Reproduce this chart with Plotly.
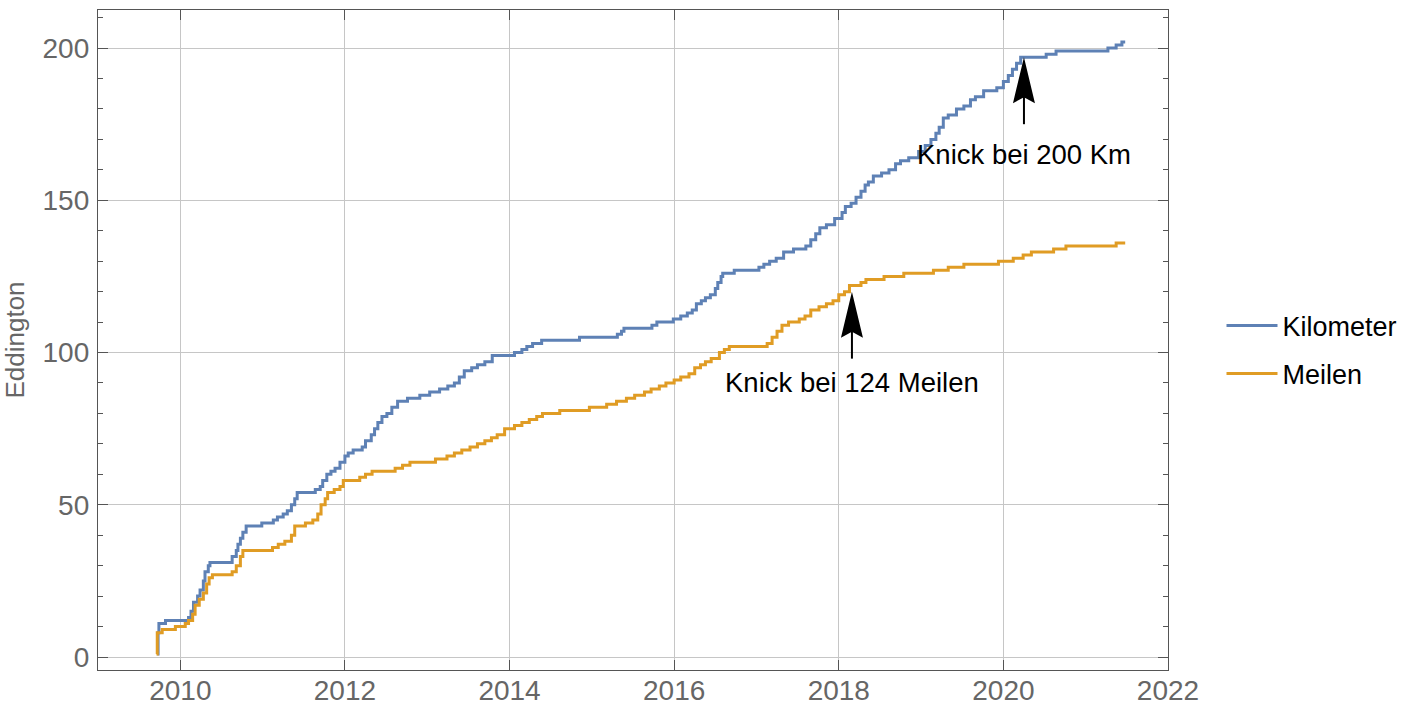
import plotly.graph_objects as go

# ---------------- data ----------------
km_years = [2009.72, 2009.73, 2009.74, 2009.82, 2010.10, 2010.13, 2010.16, 2010.21, 2010.24, 2010.28,
            2010.30, 2010.34, 2010.36, 2010.63, 2010.68, 2010.70, 2010.73, 2010.76, 2010.80, 2010.99,
            2011.13, 2011.18, 2011.25, 2011.30, 2011.35, 2011.39, 2011.42, 2011.64, 2011.70, 2011.73,
            2011.78, 2011.83, 2011.88, 2011.94, 2012.00, 2012.04, 2012.10, 2012.21, 2012.25, 2012.32,
            2012.36, 2012.40, 2012.45, 2012.51, 2012.57, 2012.64, 2012.76, 2012.91, 2013.03, 2013.15,
            2013.25, 2013.33, 2013.39, 2013.45, 2013.54, 2013.61, 2013.70, 2013.79, 2014.06, 2014.15,
            2014.21, 2014.28, 2014.39, 2014.85, 2015.31, 2015.36, 2015.39, 2015.73, 2015.79, 2015.99,
            2016.08, 2016.16, 2016.22, 2016.27, 2016.33, 2016.38, 2016.44, 2016.50, 2016.53, 2016.57,
            2016.59, 2016.73, 2017.03, 2017.09, 2017.16, 2017.24, 2017.33, 2017.45, 2017.60, 2017.66,
            2017.72, 2017.77, 2017.85, 2017.95, 2018.04, 2018.08, 2018.15, 2018.21, 2018.27, 2018.32,
            2018.36, 2018.42, 2018.52, 2018.61, 2018.69, 2018.75, 2018.85, 2018.97, 2019.05, 2019.12,
            2019.18, 2019.22, 2019.27, 2019.33, 2019.43, 2019.52, 2019.60, 2019.66, 2019.76, 2019.92,
            2020.00, 2020.06, 2020.11, 2020.16, 2020.21, 2020.52, 2020.64, 2021.27, 2021.37, 2021.44,
            2021.48]
km_values = [1, 8, 11, 12, 13, 15, 18, 20, 22, 25,
             28, 30, 31, 33, 35, 37, 39, 41, 43, 44,
             45, 46, 47, 48, 50, 52, 54, 55, 56, 58,
             60, 61, 62, 64, 66, 67, 68, 69, 71, 73,
             75, 77, 79, 80, 82, 84, 85, 86, 87, 88,
             89, 90, 92, 94, 95, 96, 97, 99, 100, 101,
             102, 103, 104, 105, 106, 107, 108, 109, 110, 111,
             112, 113, 114, 116, 117, 118, 119, 121, 123, 125,
             126, 127, 128, 129, 130, 131, 133, 134, 135, 137,
             139, 141, 142, 144, 146, 148, 149, 151, 153, 155,
             156, 158, 159, 160, 162, 163, 164, 166, 168, 170,
             172, 174, 177, 178, 180, 181, 183, 184, 186, 187,
             189, 191, 193, 195, 197, 198, 199, 200, 201, 202,
             202]

mi_years = [2009.71, 2009.72, 2009.78, 2009.94, 2010.06, 2010.10, 2010.15, 2010.18, 2010.23, 2010.28,
            2010.32, 2010.35, 2010.39, 2010.63, 2010.68, 2010.73, 2010.76, 2011.12, 2011.19, 2011.27,
            2011.35, 2011.39, 2011.52, 2011.61, 2011.67, 2011.71, 2011.76, 2011.79, 2011.87, 2011.94,
            2011.98, 2012.18, 2012.25, 2012.33, 2012.61, 2012.70, 2012.79, 2013.10, 2013.24, 2013.33,
            2013.42, 2013.52, 2013.61, 2013.70, 2013.78, 2013.85, 2013.94, 2014.06, 2014.15, 2014.24,
            2014.33, 2014.40, 2014.61, 2014.97, 2015.18, 2015.30, 2015.42, 2015.52, 2015.64, 2015.72,
            2015.82, 2015.90, 2016.00, 2016.08, 2016.18, 2016.25, 2016.32, 2016.38, 2016.45, 2016.55,
            2016.61, 2016.67, 2017.13, 2017.19, 2017.25, 2017.31, 2017.39, 2017.52, 2017.59, 2017.66,
            2017.76, 2017.85, 2017.93, 2018.00, 2018.07, 2018.13, 2018.27, 2018.33, 2018.55, 2018.79,
            2019.15, 2019.33, 2019.52, 2019.94, 2020.12, 2020.24, 2020.34, 2020.61, 2020.76, 2021.37,
            2021.48]
mi_values = [1, 8, 9, 10, 11, 12, 14, 17, 19, 21,
             24, 26, 27, 28, 30, 33, 35, 36, 37, 38,
             40, 43, 44, 45, 47, 50, 52, 54, 55, 56,
             58, 59, 60, 61, 62, 63, 64, 65, 66, 67,
             68, 69, 70, 71, 72, 73, 75, 76, 77, 78,
             79, 80, 81, 82, 83, 84, 85, 86, 87, 88,
             89, 90, 91, 92, 93, 95, 96, 97, 98, 100,
             101, 102, 103, 105, 107, 109, 110, 111, 112, 114,
             115, 116, 117, 119, 120, 122, 123, 124, 125, 126,
             127, 128, 129, 130, 131, 132, 133, 134, 135, 136,
             136]

series_names = ["Kilometer", "Meilen"]
series_colors = ["rgb(94,129,181)", "rgb(224,156,36)"]

x_ticks = [2010, 2012, 2014, 2016, 2018, 2020, 2022]
y_ticks = [0, 50, 100, 150, 200]

note_texts = ["Knick bei 200 Km", "Knick bei 124 Meilen"]
note_x = [2020.25, 2018.16]
note_tip_y = [197, 120]
note_text_y = [165, 90]

# ---------------- figure ----------------
fig = go.Figure()
for name, xs, ys, col in zip(series_names, [km_years, mi_years], [km_values, mi_values], series_colors):
    fig.add_trace(go.Scatter(x=xs, y=ys, mode="lines", name=name, legendgroup=name,
                             line=dict(color=col, width=3, shape="hv")))

FONT = "Liberation Sans, Arial, sans-serif"
axis_common = dict(showline=True, linecolor="#555555", linewidth=1.3, mirror="ticks",
                   ticks="inside", tickcolor="#555555", tickwidth=1.3, automargin=False,
                   showgrid=True, gridcolor="#c6c6c6", gridwidth=1.4, zeroline=False,
                   tickfont=dict(family=FONT, size=28, color="#666666"))

fig.update_xaxes(range=[2009.0, 2022.0], tickvals=x_ticks, ticklen=10,
                 ticklabelstandoff=-5, **axis_common)
fig.update_yaxes(range=[-4.27, 212.5], tickvals=y_ticks, ticklen=10,
                 minor=dict(tickvals=[v for v in range(0, 211, 10) if v % 50], ticks="inside",
                            ticklen=5, tickcolor="#555555", tickwidth=1.3, showgrid=False),
                 title=dict(text="Eddington", font=dict(family=FONT, size=26, color="#666666"),
                            standoff=14),
                 ticklabelstandoff=2, **axis_common)

shapes = []
annotations = []
for txt, ax, ty, tx in zip(note_texts, note_x, note_tip_y, note_text_y):
    shapes.append(dict(type="path", xref="x", yref="y", xsizemode="pixel", ysizemode="pixel",
                       xanchor=ax, yanchor=ty, path="M0,0 L-11,-46 L0,-40 L11,-46 Z",
                       fillcolor="black", line=dict(width=0)))
    shapes.append(dict(type="line", xref="x", yref="y", xsizemode="pixel", ysizemode="pixel",
                       xanchor=ax, yanchor=ty, x0=0, x1=0, y0=-38, y1=-67,
                       line=dict(color="black", width=2)))
    annotations.append(dict(x=ax, y=tx, xref="x", yref="y", text=txt, showarrow=False,
                            font=dict(family=FONT, size=27.5, color="black"),
                            xanchor="center", yanchor="middle"))

fig.update_layout(
    width=1412, height=710,
    margin=dict(l=98, r=244, t=10, b=40, autoexpand=False),
    plot_bgcolor="white", paper_bgcolor="white",
    shapes=shapes, annotations=annotations,
    legend=dict(x=1.05, y=0.485, xanchor="left", yanchor="middle", itemwidth=51,
                font=dict(family=FONT, size=27, color="black"),
                tracegroupgap=10, bgcolor="rgba(0,0,0,0)"),
)

fig.write_html("out.html")
